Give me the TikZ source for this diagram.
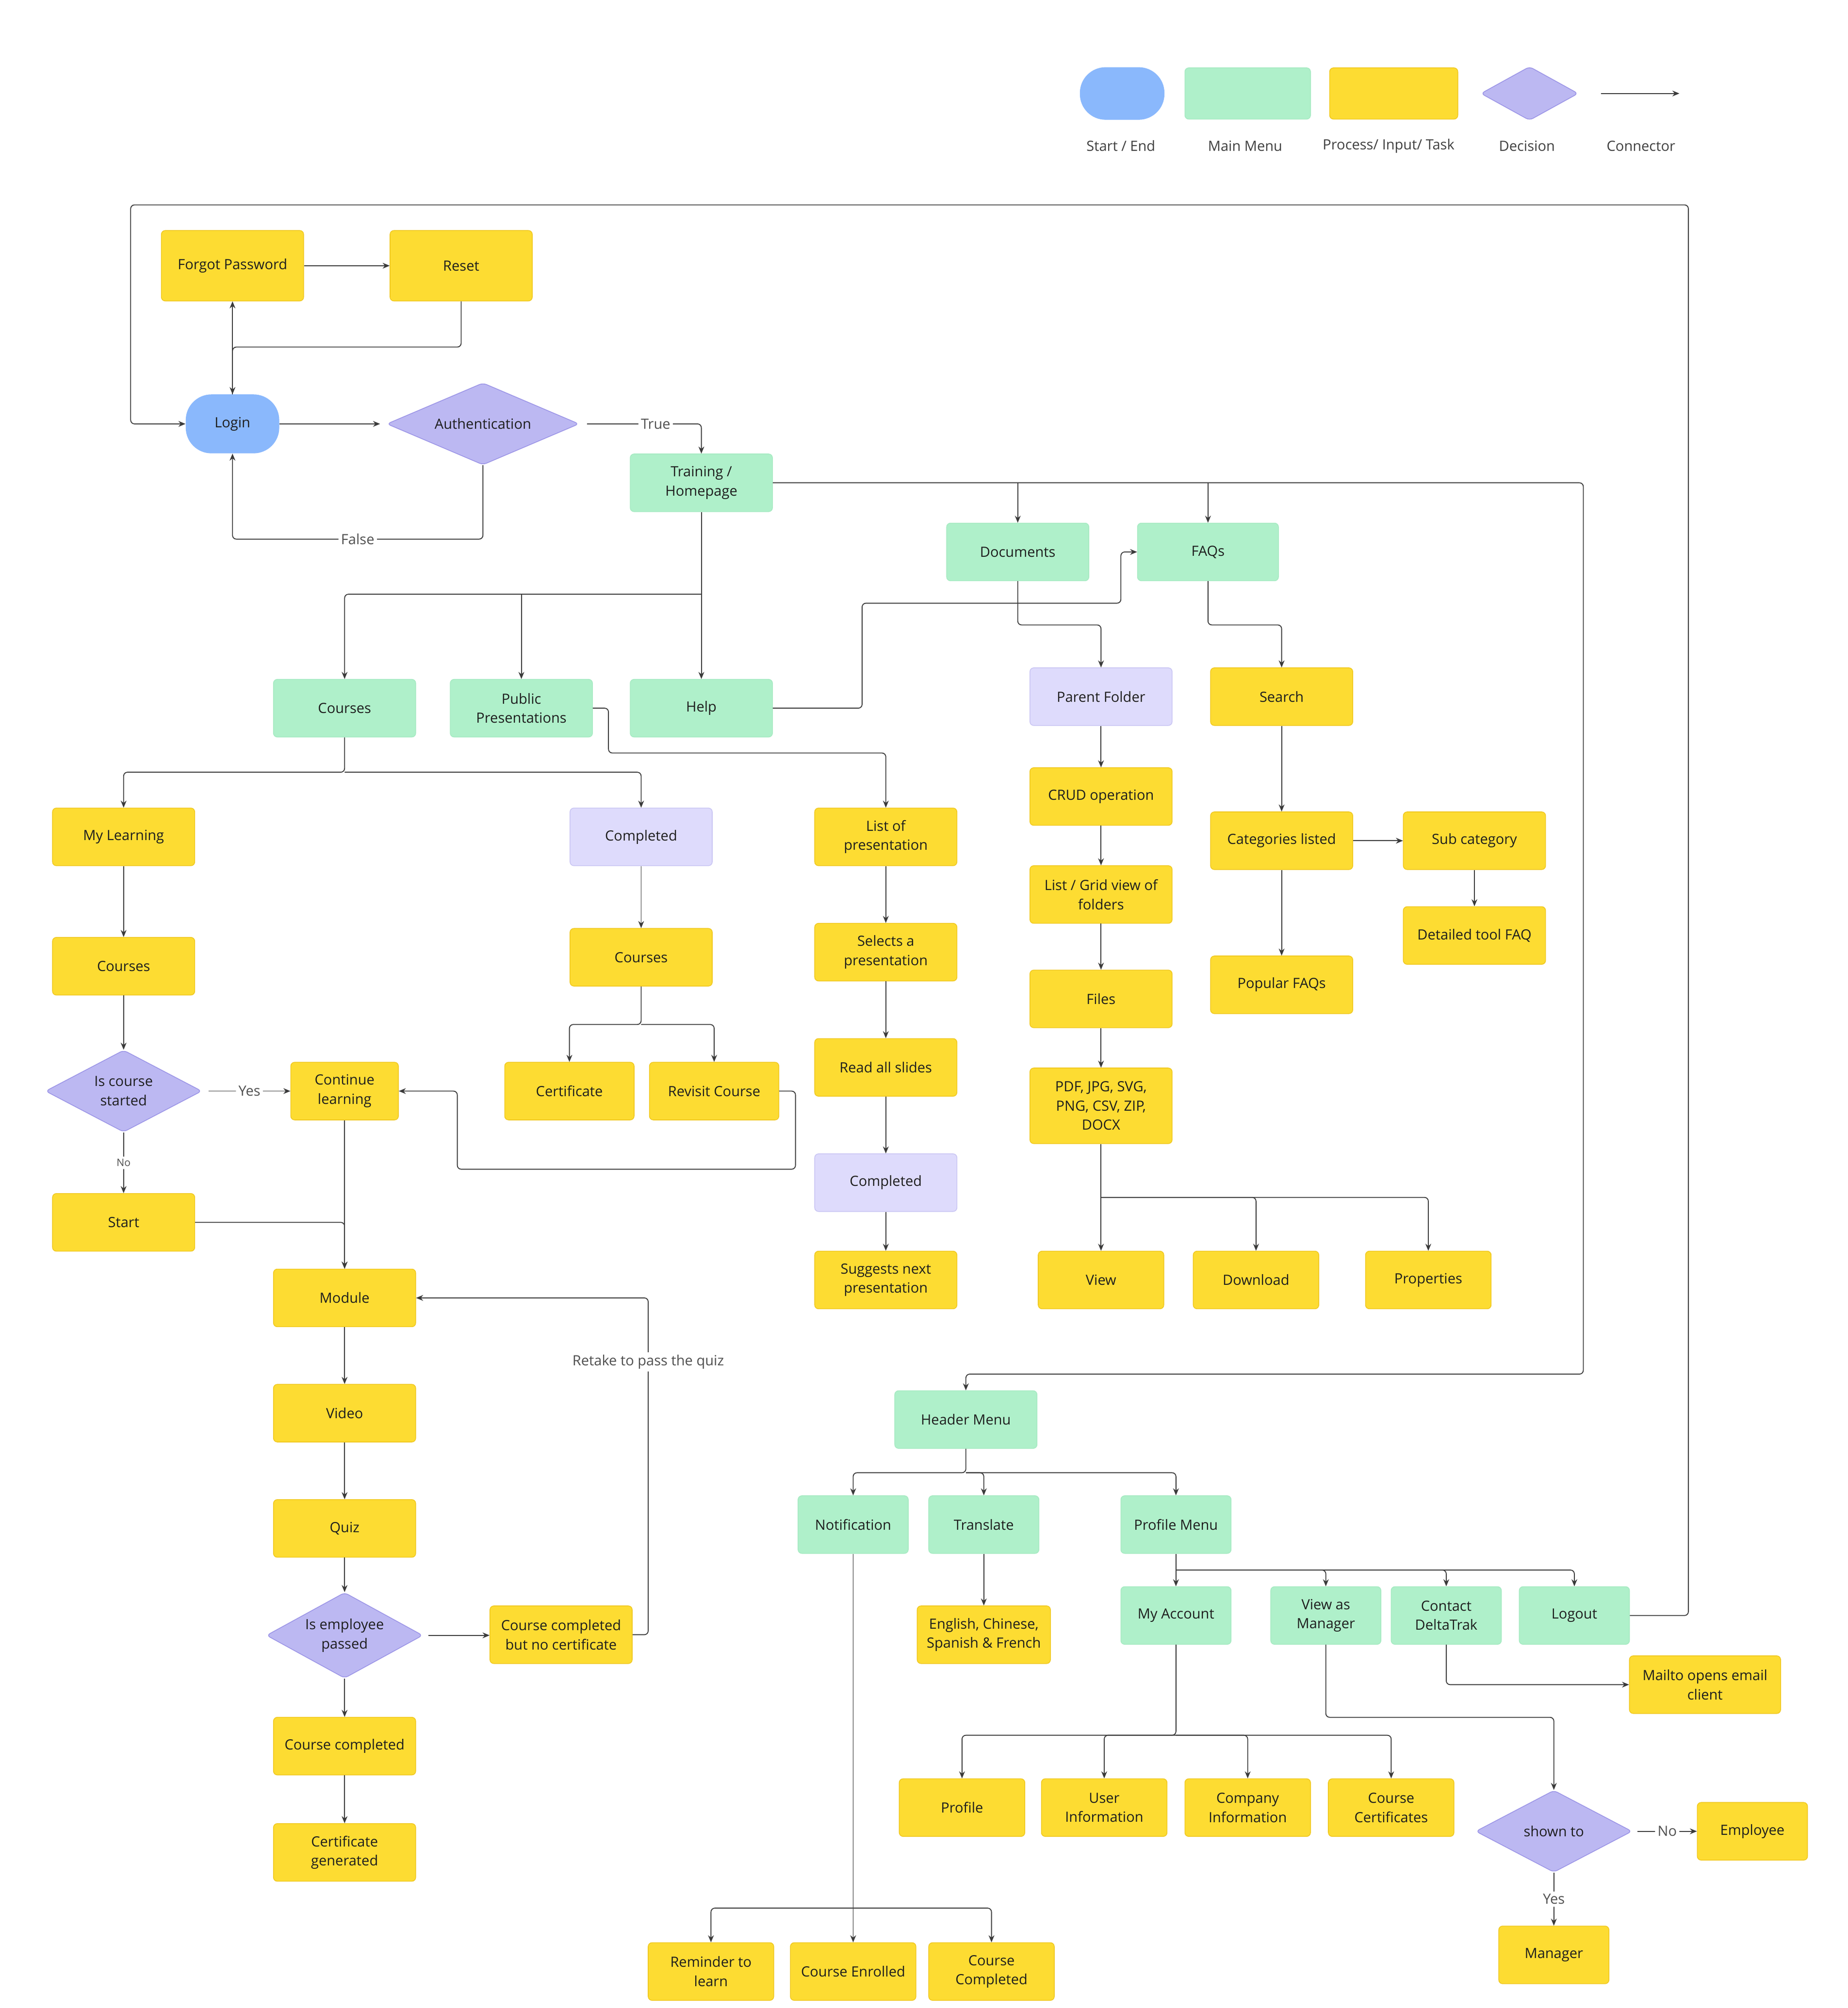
\documentclass[tikz,border=0pt]{standalone}
\usepackage{fontspec}
\setmainfont{Open Sans}
\usetikzlibrary{arrows.meta,shapes.geometric}
\definecolor{ybox}{HTML}{FDDC32}
\definecolor{yline}{HTML}{F0C820}
\definecolor{gbox}{HTML}{AFF0CA}
\definecolor{gline}{HTML}{A6EAC2}
\definecolor{dbox}{HTML}{BCB8F2}
\definecolor{dline}{HTML}{9B94E6}
\definecolor{lbox}{HTML}{DEDBFC}
\definecolor{lline}{HTML}{C9C5F3}
\definecolor{bbox}{HTML}{8AB8FC}
\definecolor{conn}{HTML}{3A3A3A}
\definecolor{txt}{HTML}{1E1E1E}
\definecolor{lbl}{HTML}{505050}
\tikzset{
  pbox/.style={rectangle, rounded corners=3pt, inner sep=0pt, align=center,
    font=\fontsize{11}{15}\selectfont, text=txt, minimum height=45pt, minimum width=111pt},
  ybx/.style={pbox, fill=ybox, draw=yline, line width=0.6pt},
  gbx/.style={pbox, fill=gbox, draw=gline, line width=0.6pt},
  lbx/.style={pbox, fill=lbox, draw=lline, line width=0.6pt},
  dec/.style={diamond, aspect=1.5, rounded corners=3pt, inner sep=0pt, fill=dbox, draw=dline,
    line width=0.6pt, align=center, font=\fontsize{11}{15}\selectfont, text=txt,
    minimum width=122pt, minimum height=64pt},
  pill/.style={rectangle, rounded corners=20pt, fill=bbox, draw=none, inner sep=0pt,
    font=\fontsize{11}{15}\selectfont, text=txt},
  arr/.style={draw=conn, line width=0.7pt, rounded corners=3pt, -{Stealth[length=5.5pt,width=4.5pt]}},
  ln/.style={draw=conn, line width=0.7pt, rounded corners=3pt},
  elab/.style={fill=white, text=lbl, font=\fontsize{11}{13}\selectfont, inner sep=2pt},
  slab/.style={fill=white, text=lbl, font=\fontsize{8}{10}\selectfont, inner sep=2pt},
  lgtxt/.style={text=txt!85, font=\fontsize{11}{13}\selectfont, inner sep=0pt},
}
\begin{document}
\begin{tikzpicture}[x=1pt,y=-1pt]
\fill[white] (0,0) rectangle (1442.3,1568);
\useasboundingbox (0,0) rectangle (1442.3,1568);

% ---------- legend ----------
\node[pill, minimum width=66pt, minimum height=41pt] (lgS) at (876,73) {};
\node[gbx, minimum width=98pt, minimum height=40pt] (lgM) at (974,73) {};
\node[ybx, minimum width=100pt, minimum height=40pt] (lgP) at (1088,73) {};
\node[dec, minimum width=76pt, minimum height=42pt] (lgD) at (1194,73) {};
\coordinate (lgA1) at (1250,73);
\coordinate (lgA2) at (1311,73);
\draw[arr] (lgA1) -- (lgA2);
\node[lgtxt] (lgSt) at (875,114) {Start / End};
\node[lgtxt] (lgMt) at (972,114) {Main Menu};
\node[lgtxt] (lgPt) at (1084,114) {Process/ Input/ Task};
\node[lgtxt] (lgDt) at (1192,114) {Decision};
\node[lgtxt] (lgCt) at (1281,114) {Connector};

% ---------- nodes ----------
\node[ybx, minimum height=55pt] (fp) at (181.5,207.5) {Forgot Password};
\node[ybx, minimum height=55pt] (reset) at (360,207.5) {Reset};
\node[pill, minimum width=73pt, minimum height=46pt] (login) at (181.5,331) {Login};
\node[dec, minimum width=150pt] (auth) at (377,331) {Authentication};
\node[gbx] (train) at (547.5,377) {Training /\\Homepage};
\node[gbx] (docs) at (794.5,431) {Documents};
\node[gbx, minimum width=110pt] (faqs) at (943,431) {FAQs};
\node[gbx] (courses) at (269,553) {Courses};
\node[gbx] (pubp) at (407,553) {Public\\Presentations};
\node[gbx] (help) at (547.5,553) {Help};
\node[lbx] (parent) at (859.5,544) {Parent Folder};
\node[ybx] (search) at (1000.5,544) {Search};
\node[ybx] (myl) at (96.5,653.5) {My Learning};
\node[lbx] (comp1) at (500.5,653.5) {Completed};
\node[ybx] (listp) at (691.5,653.5) {List of\\presentation};
\node[ybx] (crud) at (859.5,622) {CRUD operation};
\node[ybx] (cat) at (1000.5,656.5) {Categories listed};
\node[ybx] (sub) at (1151,656.5) {Sub category};
\node[ybx] (dtf) at (1151,730.5) {Detailed tool FAQ};
\node[ybx] (grid) at (859.5,698.5) {List / Grid view of\\folders};
\node[ybx] (crs1) at (96.5,754.5) {Courses};
\node[ybx] (crs2) at (500.5,747.5) {Courses};
\node[ybx] (sel) at (691.5,743.5) {Selects a\\presentation};
\node[ybx] (pop) at (1000.5,769) {Popular FAQs};
\node[ybx] (files) at (859.5,780) {Files};
\node[dec] (ics) at (96.5,852) {Is course\\started};
\node[ybx, minimum width=84pt] (cont) at (269,852) {Continue\\learning};
\node[ybx, minimum width=101pt] (cert) at (444.5,852) {Certificate};
\node[ybx, minimum width=101pt] (rev) at (557.5,852) {Revisit Course};
\node[ybx] (read) at (691.5,833.5) {Read all slides};
\node[ybx, minimum height=59pt] (pdf) at (859.5,863.5) {PDF, JPG, SVG,\\PNG, CSV, ZIP,\\DOCX};
\node[lbx] (comp2) at (691.5,923.5) {Completed};
\node[ybx] (start) at (96.5,954.5) {Start};
\node[ybx] (module) at (269,1013.5) {Module};
\node[ybx] (sugg) at (691.5,999.5) {Suggests next\\presentation};
\node[ybx, minimum width=98pt] (view) at (859.5,999.5) {View};
\node[ybx, minimum width=98pt] (dl) at (980.5,999.5) {Download};
\node[ybx, minimum width=98pt] (prop) at (1115,999.5) {Properties};
\node[ybx] (video) at (269,1103.5) {Video};
\node[gbx] (header) at (754,1108.5) {Header Menu};
\node[ybx] (quiz) at (269,1193.5) {Quiz};
\node[gbx, minimum width=86pt] (notif) at (666,1190.5) {Notification};
\node[gbx, minimum width=86pt] (trans) at (768,1190.5) {Translate};
\node[gbx, minimum width=86pt] (pmenu) at (918,1190.5) {Profile Menu};
\node[dec] (iep) at (269,1277) {Is employee\\passed};
\node[ybx] (ccnc) at (438,1276.5) {Course completed\\but no certificate};
\node[gbx, minimum width=86pt] (myacc) at (918,1261.5) {My Account};
\node[gbx, minimum width=86pt] (vam) at (1035,1261.5) {View as\\Manager};
\node[gbx, minimum width=86pt] (contact) at (1129,1261.5) {Contact\\DeltaTrak};
\node[gbx, minimum width=86pt] (logout) at (1229,1261.5) {Logout};
\node[ybx, minimum width=104pt] (lang) at (768,1276.5) {English, Chinese,\\Spanish \& French};
\node[ybx, minimum width=118pt] (mail) at (1331,1315.5) {Mailto opens email\\client};
\node[ybx] (cc) at (269,1363.5) {Course completed};
\node[ybx, minimum width=98pt] (profile) at (751,1411.5) {Profile};
\node[ybx, minimum width=98pt] (uinfo) at (862,1411.5) {User\\Information};
\node[ybx, minimum width=98pt] (cinfo) at (974,1411.5) {Company\\Information};
\node[ybx, minimum width=98pt] (ccert) at (1086,1411.5) {Course\\Certificates};
\node[dec] (shown) at (1213,1430) {shown to};
\node[ybx, minimum width=86pt] (emp) at (1368,1430) {Employee};
\node[ybx] (cg) at (269,1446.5) {Certificate\\generated};
\node[ybx, minimum width=86pt] (mgr) at (1213,1526.5) {Manager};
\node[ybx, minimum width=98pt] (rem) at (555,1539.5) {Reminder to\\learn};
\node[ybx, minimum width=98pt] (cenr) at (666,1539.5) {Course Enrolled};
\node[ybx, minimum width=98pt] (ccomp) at (774,1539.5) {Course\\Completed};

% ---------- connectors ----------
\draw[arr] (fp) -- (reset);
\draw[arr] (login) -- (fp);
\draw[arr] (reset.south) -- (360,271) -| (login.north);
\draw[arr] (logout.east) -- (1318,1261.5) |- (102,160) |- (login.west);
\draw[arr] (login) -- ([xshift=-5pt]auth.west);
\draw[arr] ([xshift=6pt]auth.east) -- node[elab, pos=0.6]{True} (547.5,331) -- (train.north);
\draw[arr] (auth.south) -- (377,421) -- node[elab]{False} (181.5,421) -- (login.south);
\draw[arr] (train.east) -- (1236,377) -- (1236,1073) -| (header.north);
\draw[arr] (794.5,377) -- (docs.north);
\draw[arr] (943,377) -- (faqs.north);
\draw[arr] (train.south) -- (help.north);
\draw[arr] (547.5,464) -| (courses.north);
\draw[arr] (407,464) -- (pubp.north);
\draw[arr] (help.east) -- (673,553) |- (875,471) |- (faqs.west);
\draw[arr] (docs.south) -- (794.5,488) -| (parent.north);
\draw[arr] (faqs.south) -- (943,488) -| (search.north);
\draw[arr] (pubp.east) -- (475,553) -- (475,588) -| (listp.north);
\draw[arr] (courses.south) -- (269,603) -| (myl.north);
\draw[arr] (269,603) -| (comp1.north);
\draw[arr] (myl) -- (crs1);
\draw[arr] (crs1) -- (ics);
\draw[arr] ([xshift=5pt]ics.east) -- node[elab]{Yes} (cont.west);
\draw[arr] (ics) -- node[slab]{No} (start);
\draw[arr] (cont) -- (module);
\draw[arr] (start.east) -| (module.north);
\draw[arr] (comp1) -- (crs2);
\draw[arr] (crs2.south) -- (500.5,800) -| (cert.north);
\draw[arr] (500.5,800) -| (rev.north);
\draw[arr] (rev.east) -- (621,852) |- (357,913) |- (cont.east);
\draw[arr] (listp) -- (sel);
\draw[arr] (sel) -- (read);
\draw[arr] (read) -- (comp2);
\draw[arr] (comp2) -- (sugg);
\draw[arr] (parent) -- (crud);
\draw[arr] (crud) -- (grid);
\draw[arr] (grid) -- (files);
\draw[arr] (files) -- (pdf);
\draw[arr] (pdf.south) -- (view.north);
\draw[arr] (859.5,935) -| (dl.north);
\draw[arr] (859.5,935) -| (prop.north);
\draw[arr] (search) -- (cat);
\draw[arr] (cat) -- (sub);
\draw[arr] (sub) -- (dtf);
\draw[arr] (cat) -- (pop);
\draw[arr] (module) -- (video);
\draw[arr] (video) -- (quiz);
\draw[arr] (quiz) -- (iep);
\draw[arr] (iep) -- (cc);
\draw[arr] (cc) -- (cg);
\draw[arr] ([xshift=4pt]iep.east) -- (iep.east -| ccnc.west);
\draw[arr] (ccnc.east) -- (506,1276.5) -- node[elab, pos=0.81]{Retake to pass the quiz} (506,1013.5) -- (module.east);
\draw[arr] (header.south) -- (754,1150) -| (notif.north);
\draw[arr] (754,1150) -| (trans.north);
\draw[arr] (754,1150) -| (pmenu.north);
\draw[arr] (trans) -- (lang);
\draw[arr] (pmenu) -- (myacc);
\draw[arr] (918,1226) -| (vam.north);
\draw[arr] (918,1226) -| (contact.north);
\draw[arr] (918,1226) -| (logout.north);
\draw[arr] (contact.south) |- (mail.west);
\draw[arr] (vam.south) -- (1035,1341) -| (shown.north);
\draw[arr] ([xshift=4pt]shown.east) -- node[elab]{No} (emp.west);
\draw[arr] (shown) -- node[elab]{Yes} (mgr);
\draw[arr] (myacc.south) -- (918,1355) -| (profile.north);
\draw[arr] (918,1355) -| (uinfo.north);
\draw[arr] (918,1355) -| (cinfo.north);
\draw[arr] (918,1355) -| (ccert.north);
\draw[arr] (notif.south) -- (cenr.north);
\draw[arr] (666,1490) -| (rem.north);
\draw[arr] (666,1490) -| (ccomp.north);
\end{tikzpicture}
\end{document}
